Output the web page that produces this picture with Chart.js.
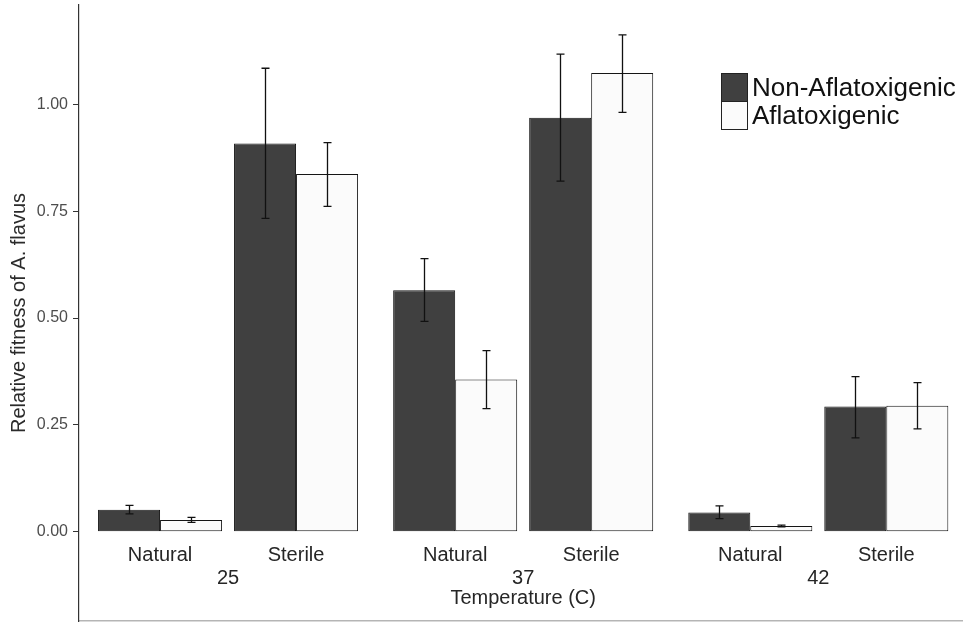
<!DOCTYPE html>
<html><head><meta charset="utf-8">
<script src="https://cdn.jsdelivr.net/npm/chart.js@4"></script>
<style>
html,body{margin:0;padding:0;background:#fff;}
#wrap{position:relative;width:963px;height:623px;}
#legend{position:absolute;left:721px;top:73px;font-family:"Liberation Sans",Arial,sans-serif;font-size:26px;color:#111;}
.row{display:flex;align-items:center;height:29px;}
.box{width:27px;height:29px;border:1px solid #222;margin-right:4px;box-sizing:border-box;}
</style></head>
<body>
<div id="wrap">
<canvas id="c" width="963" height="623"></canvas>
<div id="legend">
<div class="row"><div class="box" style="background:#404040"></div><span>Non-Aflatoxigenic</span></div>
<div class="row" style="margin-top:-1px"><div class="box" style="background:#fbfbfb"></div><span>Aflatoxigenic</span></div>
</div>
</div>
<script>
// ---- data ----
const temperatures = ["25", "37", "42"];
const soils = ["Natural", "Sterile"];
const seriesNames = ["Non-Aflatoxigenic", "Aflatoxigenic"];
// order: 25 Natural, 25 Sterile, 37 Natural, 37 Sterile, 42 Natural, 42 Sterile
const nonMean = [0.052, 0.908, 0.565, 0.968, 0.045, 0.293];
const nonLow  = [0.042, 0.733, 0.492, 0.820, 0.031, 0.220];
const nonHigh = [0.062, 1.084, 0.639, 1.117, 0.061, 0.363];
const afMean  = [0.028, 0.837, 0.356, 1.073, 0.014, 0.295];
const afLow   = [0.022, 0.761, 0.288, 0.981, 0.012, 0.241];
const afHigh  = [0.034, 0.910, 0.424, 1.162, 0.016, 0.349];
const yTicks  = [0, 0.25, 0.5, 0.75, 1.0];

// ---- layout helpers ----
const GROUP_GAP = 0.17; // extra space between temperature panels
const positions = [];
const subLabels = [];
temperatures.forEach((t, ti) => soils.forEach((s, si) => {
  positions.push(ti * (soils.length + GROUP_GAP) + si);
  subLabels.push(s);
}));
const groupCenters = temperatures.map((t, ti) => ti * (soils.length + GROUP_GAP) + (soils.length - 1) / 2);

const toXY = arr => arr.map((v, i) => ({x: positions[i], y: v}));

Chart.defaults.font.family = '"Liberation Sans", Arial, sans-serif';

const errorBars = {
  id: 'errorBars',
  afterDatasetsDraw(chart) {
    const ctx = chart.ctx, y = chart.scales.y;
    chart.data.datasets.forEach((ds, i) => {
      const meta = chart.getDatasetMeta(i);
      meta.data.forEach((el, j) => {
        const lo = y.getPixelForValue(ds.errLow[j]);
        const hi = y.getPixelForValue(ds.errHigh[j]);
        const cx = Math.round(el.x) + 0.5;
        ctx.save();
        ctx.strokeStyle = '#111';
        ctx.lineWidth = 1.3;
        ctx.beginPath();
        ctx.moveTo(cx, lo); ctx.lineTo(cx, hi);
        ctx.moveTo(cx - 4, lo); ctx.lineTo(cx + 4, lo);
        ctx.moveTo(cx - 4, hi); ctx.lineTo(cx + 4, hi);
        ctx.stroke();
        ctx.restore();
      });
    });
  }
};

const xLabels = {
  id: 'xLabels',
  afterDraw(chart) {
    const ctx = chart.ctx, x = chart.scales.x, y = chart.scales.y;
    const base = y.getPixelForValue(0);
    ctx.save();
    ctx.font = '20px "Liberation Sans", Arial, sans-serif';
    ctx.fillStyle = '#262626';
    ctx.textAlign = 'center';
    ctx.textBaseline = 'middle';
    positions.forEach((p, i) => ctx.fillText(subLabels[i], x.getPixelForValue(p), base + 24));
    groupCenters.forEach((p, i) => ctx.fillText(temperatures[i], x.getPixelForValue(p), base + 47));
    ctx.fillText('Temperature (C)', x.getPixelForValue(groupCenters[1]), base + 67);
    ctx.restore();
  }
};

new Chart(document.getElementById('c'), {
  type: 'bar',
  data: {
    datasets: [
      {label: seriesNames[0], data: toXY(nonMean), errLow: nonLow, errHigh: nonHigh,
       backgroundColor: '#404040', borderColor: '#151515', borderWidth: 1, borderSkipped: false,
       categoryPercentage: 0.912, barPercentage: 1.0},
      {label: seriesNames[1], data: toXY(afMean), errLow: afLow, errHigh: afHigh,
       backgroundColor: '#fbfbfb', borderColor: '#151515', borderWidth: 1, borderSkipped: false,
       categoryPercentage: 0.912, barPercentage: 1.0}
    ]
  },
  options: {
    responsive: false,
    animation: false,
    devicePixelRatio: 1,
    layout: {padding: {left: 0, right: 0, top: 5, bottom: 2}},
    plugins: {legend: {display: false}, tooltip: {enabled: false}},
    scales: {
      x: {
        type: 'linear', min: -0.596, max: 5.904, offset: false,
        afterBuildTicks(s) { s.ticks = positions.map(v => ({value: v})); },
        grid: {display: false},
        ticks: {display: false},
        border: {display: true, color: '#b5b5b5', width: 1.5},
        afterFit(s) { s.height = 0; s.paddingLeft = 0; s.paddingRight = 0; }
      },
      y: {
        min: -0.2084, max: 1.2319,
        afterBuildTicks(s) { s.ticks = yTicks.map(v => ({value: v})); },
        ticks: {font: {size: 16}, color: '#4d4d4d', padding: 5,
                callback: v => Number(v).toFixed(2)},
        grid: {drawOnChartArea: false, drawTicks: true, tickLength: 6, color: '#333'},
        border: {display: true, color: '#333', width: 1.2},
        title: {display: true, text: 'Relative fitness of A. flavus', font: {size: 20},
                color: '#2b2b2b', padding: {top: 7, bottom: 0}},
        afterFit(s) { s.width = 79; s.paddingTop = 0; s.paddingBottom = 0; }
      }
    }
  },
  plugins: [errorBars, xLabels]
});
</script>
</body></html>
